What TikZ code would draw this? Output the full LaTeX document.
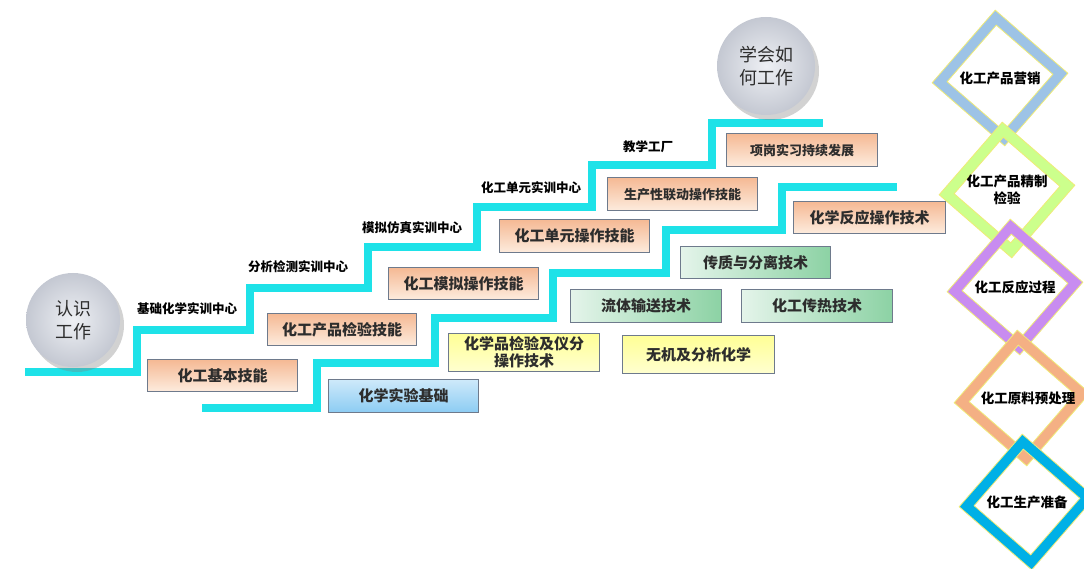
\documentclass[tikz,border=0pt]{standalone}
\usepackage{fontspec}
\setmainfont{Noto Sans CJK SC}
\usetikzlibrary{shadows}
\definecolor{stair}{RGB}{30,226,232}
\definecolor{bordc}{RGB}{110,122,140}
\definecolor{orgT}{RGB}{245,185,148}
\definecolor{orgB}{RGB}{253,236,222}
\definecolor{grnL}{RGB}{228,244,234}
\definecolor{grnR}{RGB}{140,210,164}
\definecolor{yelT}{RGB}{255,255,150}
\definecolor{yelB}{RGB}{255,255,208}
\definecolor{bluT}{RGB}{206,233,250}
\definecolor{bluB}{RGB}{140,204,243}
\definecolor{txt}{RGB}{45,45,45}
\definecolor{dBlue}{RGB}{157,195,230}
\definecolor{dGreen}{RGB}{204,255,140}
\definecolor{dPurple}{RGB}{200,140,240}
\definecolor{dOrange}{RGB}{244,176,132}
\definecolor{dCyan}{RGB}{0,176,230}
\definecolor{dEdge}{RGB}{240,235,120}
\definecolor{circA}{RGB}{238,240,244}
\definecolor{circB}{RGB}{196,200,210}
\tikzset{
  stairline/.style={draw=stair, line width=8pt, line join=miter, line cap=butt},
  boxbase/.style={draw=bordc, line width=1.3pt, anchor=north west, inner sep=0pt,
    align=center, text=txt, font=\bfseries\fontsize{15}{17}\selectfont},
  obox/.style={boxbase, top color=orgT, bottom color=orgB},
  gbox/.style={boxbase, left color=grnL, right color=grnR},
  ybox/.style={boxbase, top color=yelT, bottom color=yelB},
  bbox/.style={boxbase, top color=bluT, bottom color=bluB},
  lab/.style={font=\bfseries\fontsize{12.5}{14}\selectfont, text=black, inner sep=0pt},
  circ/.style={circle, minimum size=#1, inner sep=0pt, align=center,
    inner color=circA, outer color=circB, text=txt,
    font=\fontsize{18}{23}\selectfont,
    drop shadow={opacity=0.35, shadow xshift=4pt, shadow yshift=-5pt}},
  dtext/.style={font=\bfseries\fontsize{13.5}{17}\selectfont, text=black, align=center, inner sep=0pt},
}
\newcommand{\dmd}[4]{% center x, center y, color, name
  \fill[#3, even odd rule, draw=dEdge, line width=0.8pt, shift={(#1,#2)}, rotate=4]
    (0,-68) -- (68,0) -- (0,68) -- (-68,0) -- cycle
    (0,-53) -- (53,0) -- (0,53) -- (-53,0) -- cycle;
  \coordinate (#4) at (#1,#2);
}
\begin{document}
\begin{tikzpicture}[x=1pt,y=-1pt]
\useasboundingbox (0,0) rectangle (1084,569);
\fill[white] (0,0) rectangle (1084,569);

% staircases
\coordinate (u0) at (25,372);
\coordinate (u1) at (823,123);
\draw[stairline] (u0) -- (137,372) -- (137,330) -- (250,330) -- (250,288) -- (368,288)
  -- (368,247) -- (477,247) -- (477,207) -- (592,207) -- (592,165) -- (712,165)
  -- (712,123) -- (u1);
\coordinate (l0) at (202,408);
\coordinate (l1) at (897,187);
\draw[stairline] (l0) -- (317,408) -- (317,363) -- (435,363) -- (435,318) -- (553,318)
  -- (553,273) -- (666,273) -- (666,230) -- (782,230) -- (782,187) -- (l1);

% circles
\node[circ=94pt] (c1) at (73,320) {认识\\工作};
\node[circ=98pt] (c2) at (766,66) {学会如\\何工作};

% orange boxes
\node[obox, minimum width=150pt, minimum height=32pt] (o1) at (147,359) {化工基本技能};
\node[obox, minimum width=149pt, minimum height=32pt] (o2) at (267,313) {化工产品检验技能};
\node[obox, minimum width=150pt, minimum height=32pt] (o3) at (388,267) {化工模拟操作技能};
\node[obox, minimum width=150pt, minimum height=33pt] (o4) at (499,219) {化工单元操作技能};
\node[obox, minimum width=150pt, minimum height=33pt, font=\bfseries\fontsize{13}{15}\selectfont] (o5) at (607,177) {生产性联动操作技能};
\node[obox, minimum width=151pt, minimum height=33pt, font=\bfseries\fontsize{13}{15}\selectfont] (o6) at (726,133) {项岗实习持续发展};
\node[obox, minimum width=152pt, minimum height=32pt] (o7) at (793,201) {化学反应操作技术};

% green boxes
\node[gbox, minimum width=150pt, minimum height=32pt] (g1) at (680,246) {传质与分离技术};
\node[gbox, minimum width=151pt, minimum height=33pt] (g2) at (570,289) {流体输送技术};
\node[gbox, minimum width=151pt, minimum height=33pt] (g3) at (741,289) {化工传热技术};

% yellow boxes
\node[ybox, minimum width=151pt, minimum height=38pt, font=\bfseries\fontsize{15}{17}\selectfont] (y1) at (448,333) {化学品检验及仪分\\操作技术};
\node[ybox, minimum width=152pt, minimum height=38pt] (y2) at (622,335) {无机及分析化学};

% blue box
\node[bbox, minimum width=150pt, minimum height=33pt] (b1) at (328,379) {化学实验基础};

% labels
\node[lab, anchor=west] (t1) at (137,309) {基础化学实训中心};
\node[lab, anchor=west] (t2) at (248,267) {分析检测实训中心};
\node[lab, anchor=west] (t3) at (362,228) {模拟仿真实训中心};
\node[lab, anchor=west] (t4) at (481,188) {化工单元实训中心};
\node[lab, anchor=west] (t5) at (623,147) {教学工厂};

% diamonds
\dmd{1000}{78}{dBlue}{d1}
\dmd{1007}{190}{dGreen}{d2}
\dmd{1015}{287}{dPurple}{d3}
\dmd{1022}{398}{dOrange}{d4}
\dmd{1027}{502}{dCyan}{d5}
\node[dtext] at (d1) {化工产品营销};
\node[dtext] at (d2) {化工产品精制\\检验};
\node[dtext] at (d3) {化工反应过程};
\node[dtext] at (1028,398) {化工原料预处理};
\node[dtext] at (d5) {化工生产准备};
\end{tikzpicture}
\end{document}
